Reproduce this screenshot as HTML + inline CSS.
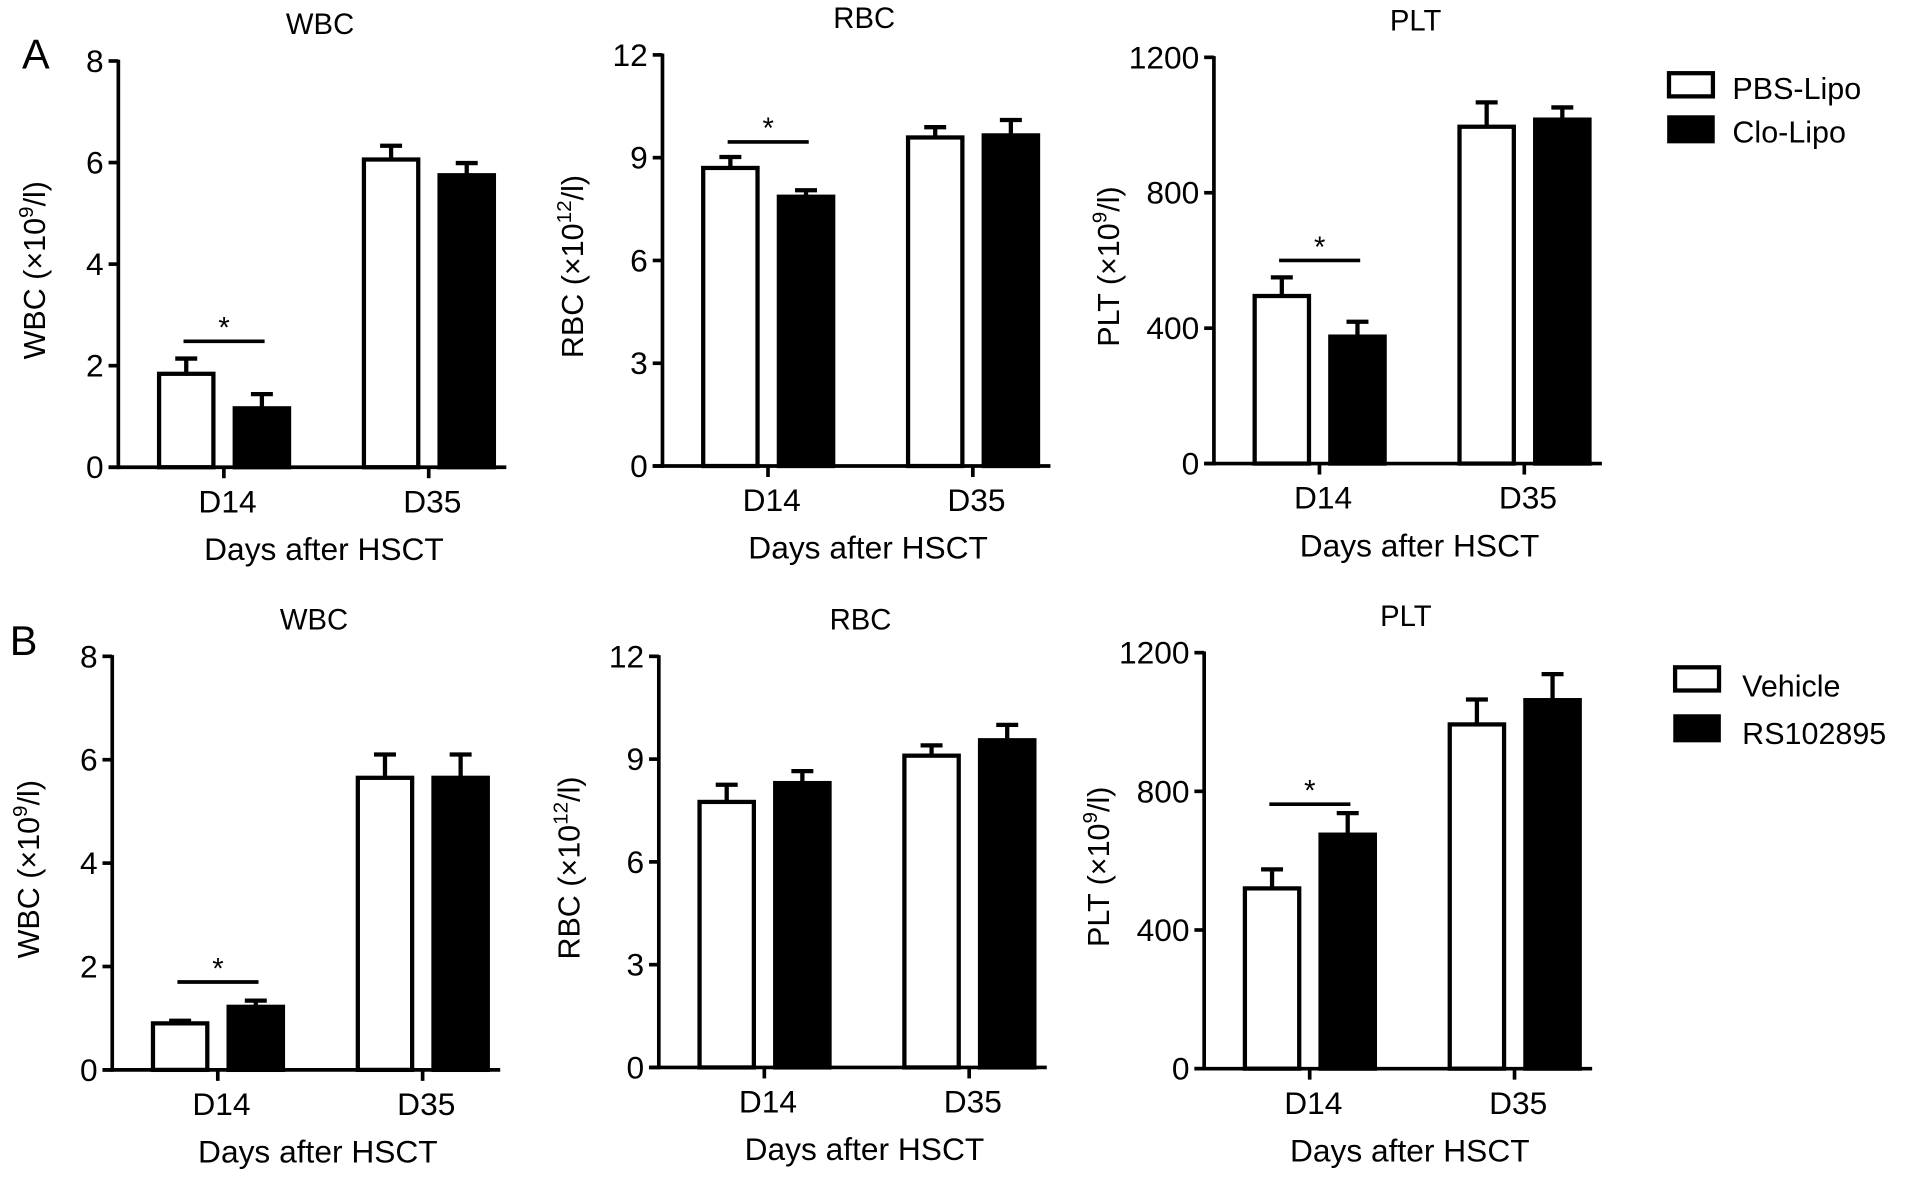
<!DOCTYPE html>
<html><head><meta charset="utf-8"><style>
html,body{margin:0;padding:0;background:#fff;}
svg{display:block;font-family:"Liberation Sans",Arial,sans-serif;}
</style></head>
<body>
<svg id="fig" width="1913" height="1187" viewBox="0 0 1568 973" preserveAspectRatio="none" xmlns="http://www.w3.org/2000/svg">
<text x="18" y="56" font-size="34">A</text>
<text x="8" y="537" font-size="34">B</text>
<g>
<rect x="1368" y="60" width="36" height="19" fill="#fff" stroke="#000" stroke-width="3.5"/>
<text x="1420" y="81" font-size="25">PBS-Lipo</text>
<rect x="1368" y="96" width="36" height="20" fill="#000" stroke="#000" stroke-width="3"/>
<text x="1420" y="117" font-size="25">Clo-Lipo</text>
</g>
<g>
<rect x="1373" y="547" width="36" height="19" fill="#fff" stroke="#000" stroke-width="3.5"/>
<text x="1428" y="571" font-size="25">Vehicle</text>
<rect x="1373" y="587" width="36" height="20" fill="#000" stroke="#000" stroke-width="3"/>
<text x="1428" y="610" font-size="25">RS102895</text>
</g>
</svg>
<script>
const categories = ["D14", "D35"];
// Panel A
const aWbcCtrl = [1.84, 6.06], aWbcCtrlErr = [0.3, 0.27];
const aWbcTrt = [1.16, 5.75], aWbcTrtErr = [0.28, 0.24];
const aRbcCtrl = [8.7, 9.59], aRbcCtrlErr = [0.32, 0.3];
const aRbcTrt = [7.86, 9.65], aRbcTrtErr = [0.19, 0.45];
const aPltCtrl = [495, 995], aPltCtrlErr = [55, 72];
const aPltTrt = [375, 1016], aPltTrtErr = [44, 36];
// Panel B
const bWbcCtrl = [0.9, 5.65], bWbcCtrlErr = [0.05, 0.45];
const bWbcTrt = [1.22, 5.65], bWbcTrtErr = [0.12, 0.45];
const bRbcCtrl = [7.75, 9.1], bRbcCtrlErr = [0.5, 0.3];
const bRbcTrt = [8.3, 9.55], bRbcTrtErr = [0.35, 0.45];
const bPltCtrl = [520, 993], bPltCtrlErr = [55, 72];
const bPltTrt = [675, 1063], bPltTrtErr = [62, 75];
const wbcTicks = [0, 2, 4, 6, 8];
const rbcTicks = [0, 3, 6, 9, 12];
const pltTicks = [0, 400, 800, 1200];
const aSigValues = [2.48, 9.46, 600];
const bSigValues = [1.7, null, 763];

const NS = "http://www.w3.org/2000/svg";
const svg = document.getElementById("fig");
function mk(tag, attrs, parent){
  const e = document.createElementNS(NS, tag);
  for (const k in attrs) e.setAttribute(k, attrs[k]);
  (parent||svg).appendChild(e);
  return e;
}
const panels = [
  {id:"a-wbc", title:"WBC", ax:97, top:50, bot:383, yo:60, ticks:wbcTicks, ctrl:aWbcCtrl, ce:aWbcCtrlErr, trt:aWbcTrt, te:aWbcTrtErr, sig:aSigValues[0], ylab:["WBC (\u00d710","9","/l)"]},
  {id:"a-rbc", title:"RBC", ax:543, top:45, bot:382, yo:65, ticks:rbcTicks, ctrl:aRbcCtrl, ce:aRbcCtrlErr, trt:aRbcTrt, te:aRbcTrtErr, sig:aSigValues[1], ylab:["RBC (\u00d710","12","/l)"]},
  {id:"a-plt", title:"PLT", ax:995, top:47, bot:380, yo:78, ticks:pltTicks, ctrl:aPltCtrl, ce:aPltCtrlErr, trt:aPltTrt, te:aPltTrtErr, sig:aSigValues[2], ylab:["PLT (\u00d710","9","/l)"]},
  {id:"b-wbc", title:"WBC", ax:92, top:538, bot:877, yo:60, ticks:wbcTicks, ctrl:bWbcCtrl, ce:bWbcCtrlErr, trt:bWbcTrt, te:bWbcTrtErr, sig:bSigValues[0], ylab:["WBC (\u00d710","9","/l)"]},
  {id:"b-rbc", title:"RBC", ax:540, top:538, bot:875, yo:65, ticks:rbcTicks, ctrl:bRbcCtrl, ce:bRbcCtrlErr, trt:bRbcTrt, te:bRbcTrtErr, sig:bSigValues[1], ylab:["RBC (\u00d710","12","/l)"]},
  {id:"b-plt", title:"PLT", ax:987, top:535, bot:876, yo:78, ticks:pltTicks, ctrl:bPltCtrl, ce:bPltCtrlErr, trt:bPltTrt, te:bPltTrtErr, sig:bSigValues[2], ylab:["PLT (\u00d710","9","/l)"]}
];
const SPAN = 318;
panels.forEach(p => {
  const g = mk("g", {});
  
  
  const maxV = p.ticks[p.ticks.length-1];
  const y = v => p.bot - v / maxV * (p.bot - p.top);
  const x = f => p.ax + f * SPAN;
  const t = mk("text", {x:x(0.52), y:p.top-22, "font-size":24, "text-anchor":"middle"}, g);
  t.textContent = p.title;
  
  
  const groupOff = [0, 0.528];
  categories.forEach((c, i) => {
    const o = groupOff[i];
    [[p.ctrl, p.ce, "#fff", 0.105, "ctrl"], [p.trt, p.te, "#000", 0.30, "trt"]].forEach(s => {
      const v = s[0][i], e = s[1][i];
      const x0 = x(o + s[3]), x1 = x(o + s[3] + 0.14);
      const cx = (x0 + x1) / 2;
      const err = mk("path", {d:`M${cx},${y(v)} V${y(v+e)} M${cx-9},${y(v+e)} H${cx+9}`, stroke:"#000", "stroke-width":3.5, fill:"none"}, g);
      
      
      const r = mk("rect", {x:x0, y:y(v), width:x1-x0, height:p.bot-y(v), fill:s[2], stroke:"#000", "stroke-width":3.5}, g);
      
      
    });
    const tx = x(o + 0.272);
    mk("line", {x1:tx, x2:tx, y1:p.bot, y2:p.bot+9, stroke:"#000", "stroke-width":3}, g);
    const lab = mk("text", {x:tx+3, y:p.bot+37, "font-size":26, "text-anchor":"middle"}, g);
    lab.textContent = c;
    
    
  });
  const ya = mk("line", {x1:p.ax, x2:p.ax, y1:p.top-1, y2:p.bot+1.5, stroke:"#000", "stroke-width":3}, g);
  
  
  const xa = mk("line", {x1:p.ax-8, x2:x(1), y1:p.bot, y2:p.bot, stroke:"#000", "stroke-width":3}, g);
  
  
  p.ticks.forEach(v => {
    mk("line", {x1:p.ax-8, x2:p.ax, y1:y(v), y2:y(v), stroke:"#000", "stroke-width":3}, g);
    const tl = mk("text", {x:p.ax-12, y:y(v)+9, "font-size":26, "text-anchor":"end"}, g);
    tl.textContent = v;
    
    
  });
  const cy = (p.top + p.bot) / 2 + 5;
  const yt = mk("text", {x:0, y:0, "font-size":25, "text-anchor":"middle", transform:`translate(${p.ax-p.yo},${cy}) rotate(-90)`}, g);
  
  
  const s1 = mk("tspan", {}, yt); s1.textContent = p.ylab[0];
  const s2 = mk("tspan", {dy:-10, "font-size":17}, yt); s2.textContent = p.ylab[1];
  const s3 = mk("tspan", {dy:10}, yt); s3.textContent = p.ylab[2];
  const xt = mk("text", {x:x(0.53), y:p.bot+76, "font-size":26, "text-anchor":"middle"}, g);
  xt.textContent = "Days after HSCT";
  
  
  if (p.sig !== null) {
    const sl = mk("line", {x1:x(0.168), x2:x(0.377), y1:y(p.sig), y2:y(p.sig), stroke:"#000", "stroke-width":3}, g);
    
    
    const st = mk("text", {x:(x(0.168)+x(0.377))/2, y:y(p.sig)-3, "font-size":24, "text-anchor":"middle"}, g);
    st.textContent = "*";
    
    
  }
});
</script>
</body></html>
